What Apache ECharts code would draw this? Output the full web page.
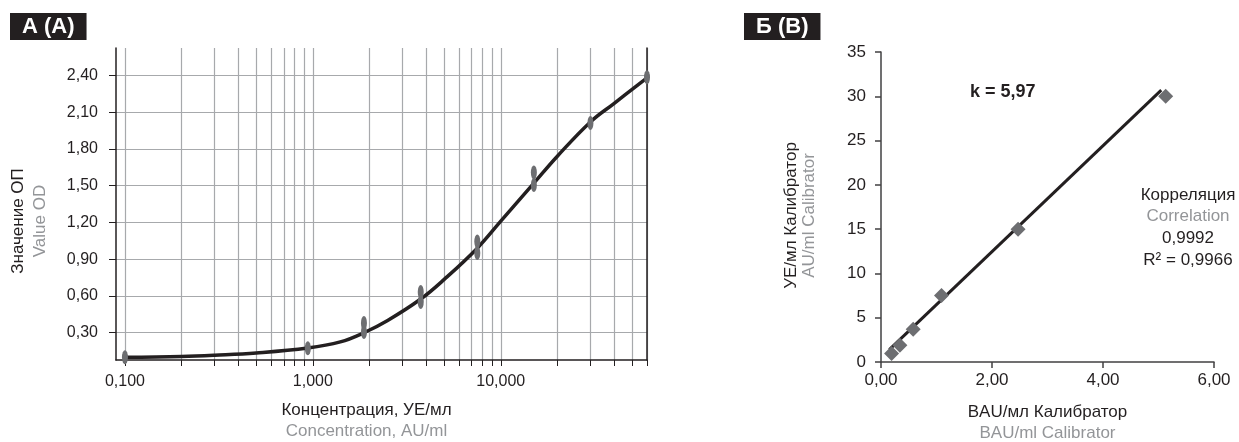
<!DOCTYPE html>
<html>
<head>
<meta charset="utf-8">
<script src="https://cdn.jsdelivr.net/npm/echarts@6/dist/echarts.min.js"></script>
<style>
  html, body { margin: 0; padding: 0; background: #fff; }
  #main { width: 1239px; height: 442px; }
</style>
</head>
<body>
<div id="main"></div>
<script>
// A: calibration curve (log concentration vs OD)
var curveConc = [0.1, 0.2, 0.3, 0.5, 0.94, 1.4, 1.87, 2.5, 3.75, 5, 7.5, 10, 15, 20, 30, 40, 60];
var curveOD   = [0.10, 0.107, 0.117, 0.135, 0.175, 0.225, 0.30, 0.40, 0.575, 0.735, 0.99, 1.21, 1.52, 1.74, 2.02, 2.17, 2.38];
var pointConc = [0.1, 0.94, 1.87, 1.87, 3.75, 3.75, 7.5, 7.5, 15, 15, 30, 60];
var pointOD   = [0.10, 0.173, 0.379, 0.306, 0.632, 0.55, 1.044, 0.95, 1.607, 1.505, 2.011, 2.384];
var concTicks = [0.1, 0.2, 0.3, 0.4, 0.5, 0.6, 0.7, 0.8, 0.9, 1, 2, 3, 4, 5, 6, 7, 8, 9, 10, 20, 30, 40, 50, 60];
var concLabels = [0.1, 1, 10];
var odTicks = [0.3, 0.6, 0.9, 1.2, 1.5, 1.8, 2.1, 2.4];

// B: AU/ml vs BAU/ml
var bauX = [5.13, 2.47, 1.09, 0.58, 0.34, 0.19];
var auY  = [30, 15, 7.5, 3.7, 1.9, 0.95];
var fitX = [0.15, 5.05];
var fitY = [1.4, 30.7];

var font = 'Liberation Sans';
var black = '#231f20';
var grey = '#939598';
var markGrey = '#6d6e71';

function zip(a, b) {
  var out = [];
  for (var i = 0; i < a.length; i++) out.push([a[i], b[i]]);
  return out;
}
function comma(v, n) { return Number(v).toFixed(n).replace('.', ','); }

var myChart = echarts.init(document.getElementById('main'), null, { renderer: 'canvas' });

var option = {
  animation: false,
  backgroundColor: '#fff',
  textStyle: { fontFamily: font },
  title: [
    { text: 'A (A)', left: 10, top: 13, padding: [3, 12, 2, 12], backgroundColor: black,
      textStyle: { color: '#fff', fontWeight: 'bold', fontSize: 22, fontFamily: font } },
    { text: 'Б (B)', left: 744, top: 13, padding: [3, 12, 2, 12], backgroundColor: black,
      textStyle: { color: '#fff', fontWeight: 'bold', fontSize: 22, fontFamily: font } }
  ],
  grid: [
    { left: 116, right: 592, top: 48, bottom: 82, containLabel: false, outerBoundsMode: 'none' },
    { left: 881, right: 25, top: 52, bottom: 80, containLabel: false, outerBoundsMode: 'none' }
  ],
  xAxis: [
    {
      type: 'log', gridIndex: 0, logBase: 10, min: 0.0896, max: 60,
      axisLine: { show: true, onZero: false, lineStyle: { color: black, width: 1.5 } },
      axisTick: { show: true, customValues: concTicks, length: 6, lineStyle: { color: black, width: 1 } },
      axisLabel: { customValues: concLabels, margin: 14, fontSize: 16, color: black, fontFamily: font,
        formatter: function (v) { return comma(v, 3); } },
      splitLine: { show: true, lineStyle: { color: '#a7a9ac', width: 1.2 } },
      name: '{a|Концентрация, УЕ/мл}\n{b|Concentration, AU/ml}',
      nameLocation: 'middle', nameGap: 40,
      nameTextStyle: { padding: [0, 30, 0, 0], rich: {
        a: { fontSize: 17, color: black, lineHeight: 21, fontFamily: font },
        b: { fontSize: 17, color: grey, lineHeight: 21, fontFamily: font } } }
    },
    {
      type: 'value', gridIndex: 1, min: 0, max: 6, interval: 2,
      axisLine: { show: true, onZero: false, lineStyle: { color: '#414042', width: 1.5 } },
      axisTick: { show: true, length: 6, lineStyle: { color: '#414042', width: 1.5 } },
      axisLabel: { margin: 10, fontSize: 17, color: black, fontFamily: font,
        formatter: function (v) { return comma(v, 2); } },
      splitLine: { show: false },
      name: '{a|BAU/мл Калибратор}\n{b|BAU/ml Calibrator}',
      nameLocation: 'middle', nameGap: 40,
      nameTextStyle: { rich: {
        a: { fontSize: 17, color: black, lineHeight: 21, fontFamily: font },
        b: { fontSize: 17, color: grey, lineHeight: 21, fontFamily: font } } }
    }
  ],
  yAxis: [
    {
      type: 'value', gridIndex: 0, min: 0.0775, max: 2.623,
      axisLine: { show: true, onZero: false, lineStyle: { color: black, width: 1.5 } },
      axisTick: { show: true, customValues: odTicks, length: 7, lineStyle: { color: black, width: 1 } },
      axisLabel: { customValues: odTicks, margin: 18, fontSize: 16, color: black, fontFamily: font,
        formatter: function (v) { return comma(v, 2); } },
      splitLine: { show: true, lineStyle: { color: '#a7a9ac', width: 1.2 } },
      name: '{a|Значение ОП}\n{b|Value OD}',
      nameLocation: 'middle', nameGap: 65,
      nameTextStyle: { padding: [0, 34, 0, 0], rich: {
        a: { fontSize: 17, color: black, lineHeight: 21.5, fontFamily: font },
        b: { fontSize: 17, color: grey, lineHeight: 21.5, fontFamily: font } } }
    },
    {
      // right border of plot A
      type: 'value', gridIndex: 0, position: 'right', min: 0.0775, max: 2.623,
      axisLine: { show: true, onZero: false, lineStyle: { color: black, width: 1.5 } },
      axisTick: { show: false }, axisLabel: { show: false }, splitLine: { show: false }
    },
    {
      type: 'value', gridIndex: 1, min: 0, max: 35, interval: 5,
      axisLine: { show: true, onZero: false, lineStyle: { color: '#414042', width: 1.5 } },
      axisTick: { show: true, length: 6, lineStyle: { color: '#414042', width: 1.5 } },
      axisLabel: { margin: 15, fontSize: 17, color: black, fontFamily: font },
      splitLine: { show: false },
      name: '{a|УЕ/мл Калибратор}\n{b|AU/ml Calibrator}',
      nameLocation: 'middle', nameGap: 63,
      nameTextStyle: { padding: [0, 17, 0, 0], rich: {
        a: { fontSize: 17, color: black, lineHeight: 18, fontFamily: font },
        b: { fontSize: 17, color: grey, lineHeight: 18, fontFamily: font } } }
    }
  ],
  series: [
    {
      type: 'line', xAxisIndex: 0, yAxisIndex: 0, data: zip(curveConc, curveOD),
      smooth: 0.4, symbol: 'none', lineStyle: { color: black, width: 3.5 }, z: 2
    },
    {
      type: 'scatter', xAxisIndex: 0, yAxisIndex: 0, data: zip(pointConc, pointOD),
      symbol: 'circle', symbolSize: [6, 14], itemStyle: { color: markGrey, opacity: 1 }, z: 3
    },
    {
      type: 'line', xAxisIndex: 1, yAxisIndex: 2, data: zip(fitX, fitY),
      symbol: 'none', lineStyle: { color: black, width: 3 }, z: 2
    },
    {
      type: 'scatter', xAxisIndex: 1, yAxisIndex: 2, data: zip(bauX, auY),
      symbol: 'diamond', symbolSize: 15, itemStyle: { color: markGrey, opacity: 1 }, z: 3
    }
  ],
  graphic: [
    { type: 'text', x: 970, y: 92, style: { text: 'k = 5,97', font: 'bold 18px "Liberation Sans"',
        fill: black, textAlign: 'left', textVerticalAlign: 'middle' } },
    { type: 'text', x: 1188, y: 184, style: {
        text: '{a|Корреляция}\n{b|Correlation}\n{a|0,9992}\n{a|R² = 0,9966}',
        textAlign: 'center', textVerticalAlign: 'top',
        rich: {
          a: { fontSize: 17, fill: black, lineHeight: 21.7, fontFamily: font },
          b: { fontSize: 17, fill: grey, lineHeight: 21.7, fontFamily: font }
        } } }
  ]
};

myChart.setOption(option);
</script>
</body>
</html>
